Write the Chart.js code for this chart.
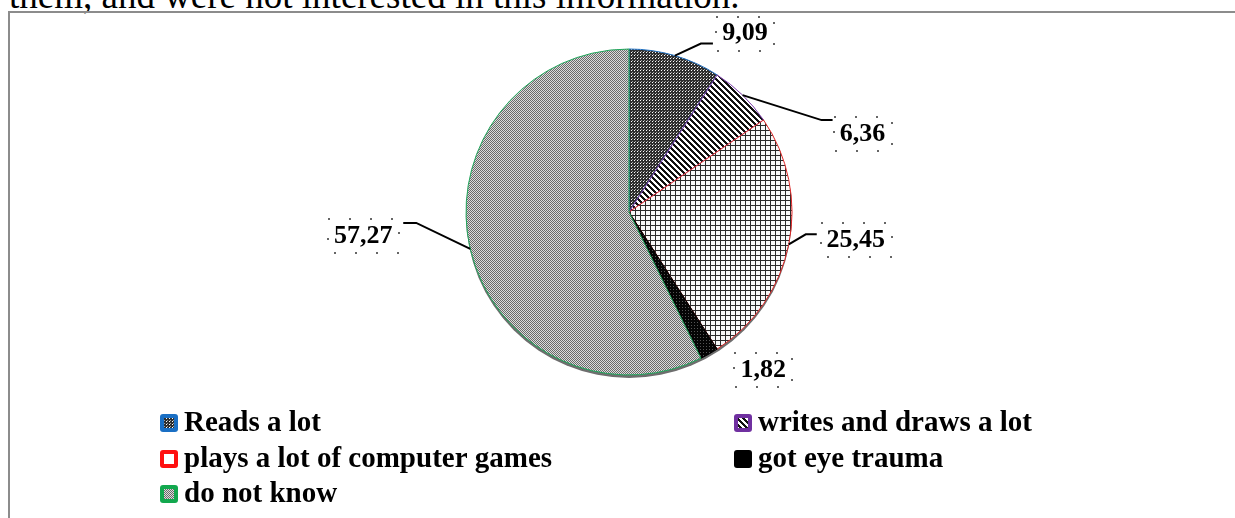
<!DOCTYPE html>
<html>
<head>
<meta charset="utf-8">
<script src="https://cdn.jsdelivr.net/npm/chart.js@4.4.1/dist/chart.umd.min.js"></script>
<style>
  html, body { margin: 0; padding: 0; background: #fff; overflow: hidden; }
  #wrap { position: relative; width: 1235px; height: 518px; overflow: hidden; background: #fff; }
  #title { position: absolute; left: 9px; top: -23px; font: 37px "Liberation Serif", "Times New Roman", serif; line-height: 37px; color: #000; white-space: nowrap; }
  #frame { position: absolute; left: 8px; top: 11px; width: 1240px; height: 520px; border-top: 2px solid #8c8c8c; border-left: 2px solid #8c8c8c; }
  canvas { position: absolute; left: 0; top: 0; }
</style>
</head>
<body>
<div id="wrap">
  <div id="title">them, and were not interested in this information.</div>
  <div id="frame"></div>
  <canvas id="c" width="1235" height="518"></canvas>
</div>
<script>
// ---- data ----
const categories = ['Reads a lot', 'writes and draws a lot', 'plays a lot of computer games', 'got eye trauma', 'do not know'];
const values = [9.09, 6.36, 25.45, 1.82, 57.27];
const valueLabels = ['9,09', '6,36', '25,45', '1,82', '57,27'];

// ---- styles ----
const borderColors = ['#1f6fc0', '#7a3aa8', '#e02828', '#000000', '#1ea65a'];
const swatchColors = ['#1a6fc4', '#7030a0', '#ff1010', '#000000', '#12a84e'];

const canvas = document.getElementById('c');
const mainCtx = canvas.getContext('2d');

function makePattern(size, draw) {
  const c = document.createElement('canvas');
  c.width = size; c.height = size;
  const g = c.getContext('2d');
  draw(g);
  return mainCtx.createPattern(c, 'repeat');
}
const patterns = [
  // Reads a lot: dark checker
  makePattern(3, g => { g.fillStyle = '#2e2e2e'; g.fillRect(0,0,3,3); g.fillStyle = '#ffffff'; g.fillRect(1,1,1,1); g.fillStyle = '#a0a0a0'; g.fillRect(2,0,1,1); }),
  // writes: diagonal stripes
  makePattern(6, g => { g.fillStyle = '#ffffff'; g.fillRect(0,0,6,6); g.fillStyle = '#111111';
    for (let i = 0; i < 6; i++) { for (let k = 0; k < 3; k++) { g.fillRect((i + k) % 6, i, 1, 1); } } }),
  // plays: grid
  makePattern(5, g => { g.fillStyle = '#f8f8f8'; g.fillRect(0,0,5,5); g.fillStyle = '#2a2a2a'; g.fillRect(0,0,5,1); g.fillRect(0,0,1,5); }),
  // eye trauma: black
  makePattern(3, g => { g.fillStyle = '#050505'; g.fillRect(0,0,3,3); g.fillStyle = '#555555'; g.fillRect(1,1,1,1); }),
  // do not know: fine grey checker
  makePattern(2, g => { g.fillStyle = '#dcdcdc'; g.fillRect(0,0,2,2); g.fillStyle = '#6a6a6a'; g.fillRect(0,0,1,1); g.fillRect(1,1,1,1); })
];

// label placement relative to the slice's outer mid point: [elbowDx, elbowDy, endDx, labelDx, labelDy, hasLeader]
const labelLayout = [
  [26, -12, 38, 70, -22, true],
  [79, 25, 90, 120, 39, true],
  [17, -10, 28, 67, -4, true],
  [0, 0, 0, 54, 16, false],
  [-54, -26, -67, -107, -13, true]
];
const labelFont = 'bold 26px "Liberation Serif", "Times New Roman", serif';

// legend layout
const legendPos = [[160, 423], [734, 423], [160, 459], [734, 459], [160, 494]];
const legendFont = 'bold 29px "Liberation Serif", "Times New Roman", serif';

function roundRect(ctx, x, y, w, h, r) {
  ctx.beginPath();
  ctx.moveTo(x + r, y);
  ctx.lineTo(x + w - r, y); ctx.quadraticCurveTo(x + w, y, x + w, y + r);
  ctx.lineTo(x + w, y + h - r); ctx.quadraticCurveTo(x + w, y + h, x + w - r, y + h);
  ctx.lineTo(x + r, y + h); ctx.quadraticCurveTo(x, y + h, x, y + h - r);
  ctx.lineTo(x, y + r); ctx.quadraticCurveTo(x, y, x + r, y);
  ctx.closePath();
}

const shadowPlugin = {
  id: 'pieShadow',
  beforeDatasetsDraw(chart) {
    const arc = chart.getDatasetMeta(0).data[0];
    if (!arc) return;
    const ctx = chart.ctx;
    ctx.save();
    ctx.beginPath();
    ctx.arc(arc.x, arc.y + 3, arc.outerRadius, 0, Math.PI * 2);
    ctx.fillStyle = '#6e6e6e';
    ctx.fill();
    ctx.restore();
  }
};

const labelPlugin = {
  id: 'leaderLabels',
  afterDatasetsDraw(chart) {
    const ctx = chart.ctx;
    const meta = chart.getDatasetMeta(0);
    ctx.save();
    meta.data.forEach((arc, i) => {
      const mid = (arc.startAngle + arc.endAngle) / 2;
      const ex = arc.x + Math.cos(mid) * arc.outerRadius;
      const ey = arc.y + Math.sin(mid) * arc.outerRadius;
      const L = labelLayout[i];
      if (L[5]) {
        ctx.beginPath();
        ctx.moveTo(ex, ey);
        ctx.lineTo(ex + L[0], ey + L[1]);
        ctx.lineTo(ex + L[2], ey + L[1]);
        ctx.strokeStyle = '#000';
        ctx.lineWidth = 2;
        ctx.setLineDash([]);
        ctx.stroke();
      }
      const lx = ex + L[3], ly = ey + L[4];
      ctx.font = labelFont;
      ctx.fillStyle = '#000';
      ctx.textAlign = 'center';
      ctx.textBaseline = 'middle';
      ctx.fillText(valueLabels[i], lx, ly);
      const w = ctx.measureText(valueLabels[i]).width;
      // dotted selection box
      ctx.setLineDash([2, 19]);
      ctx.lineWidth = 2;
      ctx.strokeStyle = '#666';
      ctx.strokeRect(Math.round(lx - w / 2 - 6), Math.round(ly - 17), Math.round(w + 12), 34);
      ctx.setLineDash([]);
    });
    ctx.restore();
  }
};

const legendPlugin = {
  id: 'gridLegend',
  afterDraw(chart) {
    const ctx = chart.ctx;
    ctx.save();
    categories.forEach((name, i) => {
      const [x, y] = legendPos[i];
      const s = 18;
      roundRect(ctx, x, y - s / 2, s, s, 3);
      ctx.fillStyle = swatchColors[i];
      ctx.fill();
      if (i !== 3) {
        ctx.fillStyle = i === 2 ? '#ffffff' : patterns[i];
        ctx.fillRect(x + 4, y - s / 2 + 4, s - 8, s - 8);
      }
      ctx.font = legendFont;
      ctx.fillStyle = '#000';
      ctx.textAlign = 'left';
      ctx.textBaseline = 'middle';
      ctx.fillText(name, x + 24, y + 1);
    });
    ctx.restore();
  }
};

new Chart(canvas, {
  type: 'pie',
  data: {
    labels: categories,
    datasets: [{
      data: values,
      backgroundColor: patterns,
      borderColor: borderColors,
      borderWidth: 1,
      hoverOffset: 0
    }]
  },
  options: {
    responsive: false,
    animation: false,
    devicePixelRatio: 1,
    radius: 163,
    layout: { padding: { left: 23, right: 0, top: 49, bottom: 143 } },
    plugins: {
      legend: { display: false },
      tooltip: { enabled: false },
      title: { display: false }
    },
    events: []
  },
  plugins: [shadowPlugin, labelPlugin, legendPlugin]
});
</script>
</body>
</html>
